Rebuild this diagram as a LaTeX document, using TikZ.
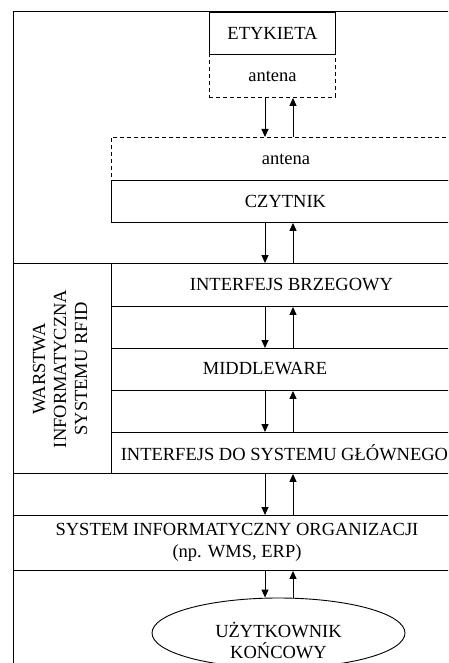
\documentclass[tikz,border=0pt]{standalone}
\usepackage{fontspec}
\setmainfont{Liberation Serif}
\usetikzlibrary{arrows.meta,shapes.geometric}
\begin{document}
\begin{tikzpicture}[x=1pt,y=-1pt,
  every node/.style={font=\fontsize{18.5}{22}\selectfont, inner sep=0pt},
  box/.style={draw, line width=0.9pt, rectangle, anchor=north west},
  dbox/.style={draw, line width=0.9pt, dashed, dash pattern=on 4pt off 3pt, rectangle, anchor=north west},
  arr/.style={line width=1pt, -{Triangle[length=8pt,width=7pt]}},
  txt/.style={align=center}]
\useasboundingbox (0,0) rectangle (448,663);
\clip (0,0) rectangle (448,663);
% outer frame
\draw[line width=1pt] (13,12) rectangle (480,700);
% columns of the arrows
\coordinate (dx) at (265,0);
\coordinate (ux) at (293,0);
% dashed antennas first
\node[dbox, minimum width=126, minimum height=43] (ant1) at (209,54) {antena};
\node[dbox, minimum width=349, minimum height=43] (ant2) at (111,137) {antena};
% solid boxes
\node[box, minimum width=126, minimum height=42] (etyk) at (209,12) {ETYKIETA};
\node[box, minimum width=348, minimum height=42] (czyt) at (111,180) {CZYTNIK};
\node[box, minimum width=98, minimum height=210] (warstwa) at (13,263) {};
\node[txt, rotate=90, align=center, font=\fontsize{18.5}{21}\selectfont] (wtxt) at (60,369) {WARSTWA\\INFORMATYCZNA\\SYSTEMU RFID};
\node[box, minimum width=360, minimum height=43] (ib) at (111,263) {INTERFEJS BRZEGOWY};
\node[box, minimum width=360, minimum height=42] (mw) at (111,348) {};
\node (mwtxt) at (265,369) {MIDDLEWARE};
\node[box, minimum width=346, minimum height=41] (idsg) at (111,432) {INTERFEJS DO SYSTEMU GŁÓWNEGO};
\node[box, minimum width=448, minimum height=55] (sys) at (13,515) {};
\node[txt, font=\fontsize{18.5}{22}\selectfont] (systxt) at (237,542) {SYSTEM INFORMATYCZNY ORGANIZACJI\\(np. WMS, ERP)};
\node[draw, line width=0.9pt, ellipse, minimum width=253, minimum height=70] (user) at (278.5,633) {};
\node[txt, font=\fontsize{18.5}{21}\selectfont] (usertxt) at (278.5,640) {UŻYTKOWNIK\\KOŃCOWY};
% horizontal lines closing the left column
\draw[line width=0.9pt] (warstwa.north west) -- (ib.north west);
\draw[line width=0.9pt] (warstwa.south west) -- (idsg.south west);
% arrows
\draw[arr] (ant1.south -| dx) -- (ant2.north -| dx);
\draw[arr] (ant2.north -| ux) -- (ant1.south -| ux);
\draw[arr] (czyt.south -| dx) -- (ib.north -| dx);
\draw[arr] (ib.north -| ux) -- (czyt.south -| ux);
\draw[arr] (ib.south -| dx) -- (mw.north -| dx);
\draw[arr] (mw.north -| ux) -- (ib.south -| ux);
\draw[arr] (mw.south -| dx) -- (idsg.north -| dx);
\draw[arr] (idsg.north -| ux) -- (mw.south -| ux);
\draw[arr] (idsg.south -| dx) -- (sys.north -| dx);
\draw[arr] (sys.north -| ux) -- (idsg.south -| ux);
\draw[arr] (sys.south -| dx) -- (user.north -| dx);
\draw[arr] (user.north -| ux) -- (sys.south -| ux);
\end{tikzpicture}
\end{document}
